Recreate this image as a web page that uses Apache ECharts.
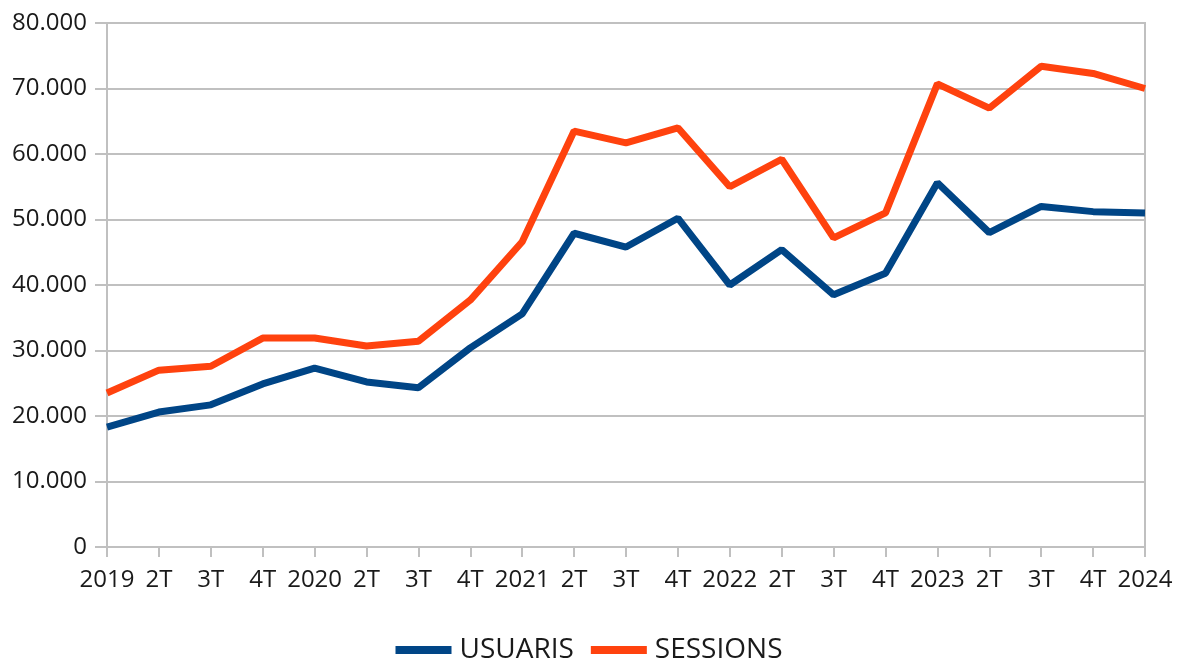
<!DOCTYPE html>
<html><head><meta charset="utf-8">
<script src="https://cdn.jsdelivr.net/npm/echarts@6/dist/echarts.min.js"></script>
<style>html,body{margin:0;padding:0;background:#fff}#c{width:1178px;height:664px}</style>
</head><body><div id="c"></div>
<script>
const categories = ['2019','2T','3T','4T','2020','2T','3T','4T','2021','2T','3T','4T','2022','2T','3T','4T','2023','2T','3T','4T','2024'];
const usuaris = [18300,20600,21700,24900,27300,25200,24300,30400,35600,47900,45800,50200,40000,45400,38500,41800,55600,48000,52000,51200,51000];
const sessions = [23500,27000,27600,31900,31900,30700,31400,37700,46600,63500,61700,64000,55000,59200,47200,51000,70700,67000,73400,72300,70000];
const yTicks = {min:0, max:80000, interval:10000};

const fmt = v => String(v).replace(/\B(?=(\d{3})+(?!\d))/g, '.');
const chart = echarts.init(document.getElementById('c'), null, {renderer:'canvas'});
const FONT = 'Open Sans';
chart.setOption({
  animation:false,
  backgroundColor:'#fff',
  color:['#004586','#ff420e'],
  grid:{left:107, right:33, top:23, bottom:117, show:true, borderColor:'#c0c0c0', borderWidth:2, containLabel:false},
  legend:{
    bottom:-5, left:'center', icon:'rect', itemWidth:56, itemHeight:8, itemGap:17,
    textStyle:{fontFamily:FONT, fontSize:28, color:'#1a1a1a', padding:[0,0,0,3]},
    data:['USUARIS','SESSIONS']
  },
  xAxis:{
    type:'category', data:categories, boundaryGap:false,
    axisLine:{lineStyle:{color:'#c0c0c0', width:2}},
    axisTick:{show:true, length:10, interval:0, lineStyle:{color:'#c0c0c0', width:2}},
    axisLabel:{interval:0, fontFamily:FONT, fontSize:24, color:'#1a1a1a', margin:21},
    splitLine:{show:false}
  },
  yAxis:{
    type:'value', min:yTicks.min, max:yTicks.max, interval:yTicks.interval,
    axisLine:{show:true, lineStyle:{color:'#c0c0c0', width:2}},
    axisTick:{show:true, length:12, lineStyle:{color:'#c0c0c0', width:2}},
    axisLabel:{fontFamily:FONT, fontSize:24, color:'#1a1a1a', margin:20, formatter:fmt},
    splitLine:{show:true, lineStyle:{color:'#c0c0c0', width:2}}
  },
  series:[
    {name:'USUARIS', type:'line', data:usuaris, showSymbol:false, lineStyle:{width:7, color:'#004586'}, itemStyle:{color:'#004586'}},
    {name:'SESSIONS', type:'line', data:sessions, showSymbol:false, lineStyle:{width:7, color:'#ff420e'}, itemStyle:{color:'#ff420e'}}
  ]
});
</script></body></html>
